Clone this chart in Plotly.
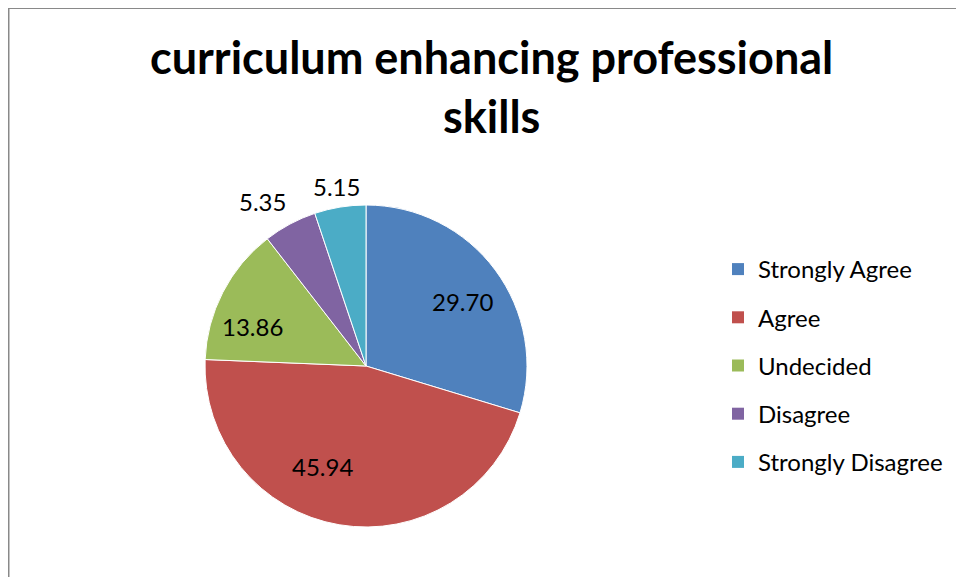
import math
import plotly.graph_objects as go

categories = ["Strongly Agree", "Agree", "Undecided", "Disagree", "Strongly Disagree"]
values = [29.70, 45.94, 13.86, 5.35, 5.15]
colors = ["#4F81BD", "#C0504D", "#9BBB59", "#8064A2", "#4BACC6"]
label_radius = [0.72, 0.68, 0.75, 1.21, 1.13]   # label distance from centre, in pie radii
label_nudge = [3, 14, -8, -4, 0]                 # label angle offset from slice mid-angle, degrees

W, H = 964, 577
OFF = 8   # page body margin: the figure sits 8px right/down in the window
FONT = "Lato"
CX, CY, R = 366 - OFF, 366 - OFF, 161   # pie centre / radius in figure pixels

fig = go.Figure()
fig.add_trace(go.Pie(
    labels=categories,
    values=values,
    sort=False,
    direction="clockwise",
    rotation=0,
    marker=dict(colors=colors, line=dict(color="white", width=1)),
    textinfo="none",
    domain=dict(x=[(CX - R) / W, (CX + R) / W], y=[(H - CY - R) / H, (H - CY + R) / H]),
    showlegend=False,
    hoverinfo="label+value",
))

# data labels placed around each slice's mid-angle
total = sum(values)
cum = 0.0
annotations = []
for v, rf, nd in zip(values, label_radius, label_nudge):
    mid = (cum + v / 2) / total * 2 * math.pi + math.radians(nd)
    cum += v
    px = CX + rf * R * math.sin(mid)
    py = CY - rf * R * math.cos(mid)
    annotations.append(dict(
        x=px / W, y=1 - py / H, xref="paper", yref="paper",
        text=f"{v:.2f}", showarrow=False,
        font=dict(family=FONT, size=24, color="black"),
        xanchor="center", yanchor="middle",
    ))

annotations.append(dict(
    x=(491 - OFF) / W, y=1 - (28 - OFF) / H, xref="paper", yref="paper",
    xanchor="center", yanchor="top", showarrow=False,
    text="<b>curriculum enhancing professional<br>skills</b>",
    font=dict(family=FONT, size=45, color="black"),
))

# legend entries (one per category), spaced like the original
for c, col in zip(categories, colors):
    fig.add_trace(go.Scatter(
        x=[None], y=[None], mode="markers", name=c,
        marker=dict(symbol="square", size=14, color=col),
        legendgroup=c, showlegend=True,
    ))

fig.update_layout(
    width=W, height=H,
    margin=dict(l=0, r=0, t=0, b=0),
    paper_bgcolor="white", plot_bgcolor="white",
    xaxis=dict(visible=False), yaxis=dict(visible=False),
    annotations=annotations,
    legend=dict(
        x=(718 - OFF) / W, xanchor="left", y=1 - (247 - OFF) / H, yanchor="top",
        font=dict(family=FONT, size=24, color="black"),
        tracegroupgap=14, itemsizing="constant",
        bgcolor="rgba(0,0,0,0)",
    ),
    shapes=[
        dict(type="line", xref="paper", yref="paper", x0=0.5 / W, x1=1, y0=1 - 0 / H, y1=1 - 0 / H,
             line=dict(color="#898989", width=2)),
        dict(type="line", xref="paper", yref="paper", x0=0.5 / W, x1=0.5 / W, y0=0, y1=1,
             line=dict(color="#898989", width=2)),
    ],
)

fig.write_html("out.html")
